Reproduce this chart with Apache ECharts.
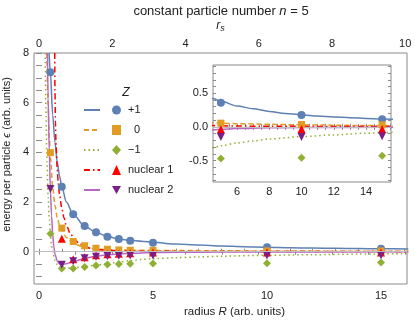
<!DOCTYPE html>
<html>
<head>
<meta charset="utf-8">
<script src="https://cdn.jsdelivr.net/npm/echarts@6/dist/echarts.min.js"></script>
<style>
  html, body { margin: 0; padding: 0; background: #fff; }
  #container { width: 415px; height: 324px; }
</style>
</head>
<body>
<div id="container"></div>
<script>
// sampled radii and energies per particle
const radii = [0.5, 1, 1.5, 2, 2.5, 3, 3.5, 4, 5, 10, 15];
const zPlus = [7.22, 2.62, 1.51, 1.04, 0.78, 0.6, 0.51, 0.44, 0.36, 0.175, 0.115];
const zZero = [3.99, 0.95, 0.41, 0.24, 0.14, 0.1, 0.07, 0.06, 0.055, 0.035, 0.03];
const zMinus = [0.72, -0.68, -0.68, -0.62, -0.56, -0.51, -0.49, -0.48, -0.47, -0.46, -0.43];
const nuc1 = [null, 0.52, -0.3, -0.22, -0.14, -0.1, -0.08, -0.06, -0.035, -0.03, -0.03];
const nuc2 = [2.52, -0.52, -0.38, -0.26, -0.2, -0.17, -0.16, -0.15, -0.15, -0.15, -0.14];

// fitted curves
const plusFitR = [0.44, 0.5, 0.6, 0.7, 0.8, 0.9, 1, 1.2, 1.5, 2, 2.5, 3, 3.5, 4, 4.5, 5, 6, 7, 8, 9, 10, 11, 12, 13, 14, 15, 16.2];
const plusFitE = [8, 7.2, 5.5, 4.4, 3.6, 3.05, 2.62, 2.0, 1.5, 1.03, 0.78, 0.62, 0.51, 0.46, 0.42, 0.38, 0.31, 0.27, 0.23, 0.2, 0.18, 0.16, 0.148, 0.135, 0.125, 0.117, 0.11];
const zeroFitR = [0.34, 0.4, 0.45, 0.5, 0.6, 0.7, 0.8, 0.9, 1, 1.2, 1.6, 2, 2.5, 3, 4, 5, 6, 8, 10, 12, 14, 16.2];
const zeroFitE = [8, 5.9, 4.65, 3.8, 2.6, 1.85, 1.38, 1.07, 0.85, 0.57, 0.29, 0.17, 0.11, 0.085, 0.065, 0.055, 0.048, 0.038, 0.03, 0.025, 0.02, 0.016];
const minusFitR = [0.27, 0.3, 0.35, 0.4, 0.45, 0.5, 0.55, 0.6, 0.7, 0.8, 0.9, 1, 1.2, 1.5, 2, 2.5, 3, 3.5, 4, 4.5, 5, 6, 7, 8, 10, 12, 14, 16.2];
const minusFitE = [8, 5.8, 3.6, 2.2, 1.3, 0.65, 0.25, -0.05, -0.35, -0.52, -0.6, -0.64, -0.66, -0.65, -0.6, -0.54, -0.48, -0.42, -0.36, -0.31, -0.28, -0.24, -0.21, -0.18, -0.145, -0.12, -0.095, -0.075];
const nuc1FitR = [0.69, 0.7, 0.72, 0.75, 0.8, 0.85, 0.9, 1, 1.1, 1.2, 1.4, 1.6, 1.8, 2, 2.4, 3, 4, 5, 8, 16.2];
const nuc1FitE = [8, 6.5, 5.2, 4.2, 3.3, 2.7, 2.3, 1.75, 1.35, 1.05, 0.68, 0.45, 0.3, 0.2, 0.1, 0.05, 0.025, 0.015, 0.008, 0.003];
const nuc2FitR = [0.37, 0.4, 0.45, 0.5, 0.55, 0.6, 0.65, 0.7, 0.8, 0.9, 1, 1.2, 1.5, 2, 2.5, 3, 4, 5, 6, 8, 10, 16.2];
const nuc2FitE = [8, 6.2, 4.0, 2.5, 1.45, 0.7, 0.2, -0.1, -0.38, -0.49, -0.52, -0.48, -0.4, -0.27, -0.18, -0.12, -0.06, -0.035, -0.025, -0.015, -0.01, -0.005];

const labelsR = [0, 5, 10, 15];
const labelsRs = [0, 2, 4, 6, 8, 10];
const labelsE = [0, 2, 4, 6, 8];
const labelsInsetR = [6, 8, 10, 12, 14];
const labelsInsetE = [-0.5, 0, 0.5];

const names = ['+1', '0', '\u22121', 'nuclear 1', 'nuclear 2'];
const fitNames = ['f+1', 'f0', 'f\u22121', 'fn1', 'fn2'];

function pairs(xs, ys) {
  return xs.map(function (x, i) { return [x, ys[i]]; });
}
function steps(a, b, s) {
  var out = [];
  for (var v = a; v <= b + 1e-9; v += s) out.push(Math.round(v * 100) / 100);
  return out;
}

var font = 'Liberation Sans, Arial, sans-serif';
var frame = '#8a8a8a';
var ink = '#222';

var lineColors = ['#5E81B5', '#E19C24', '#8FB032', '#FF0000', '#B868C4'];
var markColors = ['#5E81B5', '#E19C24', '#8FB032', '#FF0000', '#7B1F87'];
var lineTypes = ['solid', [5, 3], [1.5, 3], [6, 3, 1.5, 3], 'solid'];
var symbols = ['circle', 'rect', 'diamond', 'triangle', 'path://M0,0L10,0L5,9Z'];
var symSizes = [8, 7, 8, 8, 8];
var fits = [pairs(plusFitR, plusFitE), pairs(zeroFitR, zeroFitE), pairs(minusFitR, minusFitE),
            pairs(nuc1FitR, nuc1FitE), pairs(nuc2FitR, nuc2FitE)];
var pts = [zPlus, zZero, zMinus, nuc1, nuc2].map(function (ys) {
  return radii.map(function (r, i) { return [r, ys[i]]; }).filter(function (p) { return p[1] !== null; });
});

function tickAxis(extra) {
  var base = {
    type: 'value',
    axisLine: { show: false },
    splitLine: { show: false },
    axisTick: { show: true, inside: true, length: 3, lineStyle: { color: frame } },
    axisLabel: { color: ink, fontSize: 11, fontFamily: font }
  };
  return Object.assign(base, extra);
}

var series = [];
[0, 2].forEach(function (ax) {
  var inset = ax === 2;
  fits.forEach(function (d, i) {
    var s = {
      name: fitNames[i], type: 'line', xAxisIndex: ax, yAxisIndex: ax,
      data: d, symbol: 'none', smooth: 0.3, smoothMonotone: 'x',
      lineStyle: { color: lineColors[i], width: 1.5, type: lineTypes[i] },
      itemStyle: { color: lineColors[i] },
      z: inset ? 4 : 2, silent: true
    };
    if (i === 0) {
      s.markLine = {
        silent: true, symbol: 'none', label: { show: false },
        lineStyle: { color: '#bdbdbd', width: 1, type: 'solid' },
        data: [{ yAxis: 0 }]
      };
    }
    series.push(s);
  });
  pts.forEach(function (d, i) {
    series.push({
      name: names[i], type: 'scatter', xAxisIndex: ax, yAxisIndex: ax,
      data: d, symbol: symbols[i], symbolSize: symSizes[i],
      itemStyle: { color: markColors[i], opacity: 1 },
      z: inset ? 5 : 3, silent: true
    });
  });
});

var option = {
  animation: false,
  backgroundColor: '#fff',
  title: [
    {
      text: 'constant particle number {i|n} = 5', left: 221, top: 5, textAlign: 'center', padding: 0,
      textStyle: { fontSize: 13, fontWeight: 'normal', color: ink, fontFamily: font,
        rich: { i: { fontStyle: 'italic', fontSize: 13, color: ink, fontFamily: font } } }
    },
    {
      text: 'Z', left: 126, top: 87, textAlign: 'center', padding: 0,
      textStyle: { fontSize: 12, fontWeight: 'normal', fontStyle: 'italic', color: ink, fontFamily: font }
    }
  ],
  legend: [
    {
      data: fitNames, orient: 'vertical', left: 83, top: 104, padding: 0,
      itemWidth: 16, itemHeight: 10, itemGap: 8,
      formatter: function () { return ' '; },
      itemStyle: { opacity: 0 },
      textStyle: { fontSize: 11, lineHeight: 12, fontFamily: font },
      selectedMode: false
    },
    {
      data: names, orient: 'vertical', left: 112, top: 104, padding: 0,
      itemWidth: 9, itemHeight: 10, itemGap: 8,
      formatter: function (n) { return n === '0' ? '  0' : n; },
      textStyle: { fontSize: 11, lineHeight: 12, color: ink, fontFamily: font, padding: [0, 0, 0, 2] },
      selectedMode: false
    }
  ],
  grid: [
    { left: 34, top: 53, width: 373, height: 231, show: true, borderColor: frame, borderWidth: 1,
      backgroundColor: 'transparent', outerBoundsMode: 'none', containLabel: false },
    { left: 213, top: 65, width: 178, height: 117, show: true, borderColor: frame, borderWidth: 1,
      backgroundColor: '#fff', z: 3, outerBoundsMode: 'none', containLabel: false }
  ],
  xAxis: [
    tickAxis({
      gridIndex: 0, position: 'bottom', min: -0.22, max: 16.14,
      axisTick: { show: true, inside: true, length: 3, customValues: steps(0, 16, 1), lineStyle: { color: frame } },
      axisLabel: { customValues: labelsR, color: ink, fontSize: 11, fontFamily: font, margin: 6 },
      name: 'radius {i|R} (arb. units)', nameLocation: 'middle', nameGap: 22,
      nameTextStyle: { color: ink, fontSize: 11.5, fontFamily: font, padding: [0, 0, 0, 28],
        rich: { i: { fontStyle: 'italic', fontSize: 11.5, color: ink, fontFamily: font } } }
    }),
    tickAxis({
      gridIndex: 0, position: 'top', min: -0.137, max: 10.05,
      axisTick: { show: true, inside: true, length: 3, customValues: steps(0, 10, 1), lineStyle: { color: frame } },
      axisLabel: { customValues: labelsRs, color: ink, fontSize: 11, fontFamily: font, margin: 4 },
      name: '{i|r}{s|s}', nameLocation: 'middle', nameGap: 18,
      nameTextStyle: { color: ink, fontSize: 11, fontFamily: font,
        rich: { i: { fontStyle: 'italic', fontSize: 12, color: ink, fontFamily: font },
                s: { fontStyle: 'italic', fontSize: 9, color: ink, fontFamily: font, padding: [5, 0, 0, 0] } } }
    }),
    tickAxis({
      gridIndex: 1, position: 'bottom', min: 4.51, max: 15.55, z: 4,
      axisTick: { show: true, inside: true, length: 3, customValues: steps(5, 15.5, 0.5), lineStyle: { color: frame } },
      axisLabel: { customValues: labelsInsetR, color: ink, fontSize: 11, fontFamily: font, margin: 4 }
    }),
    tickAxis({
      gridIndex: 1, position: 'top', min: 4.51, max: 15.55, z: 4,
      axisTick: { show: true, inside: true, length: 3, customValues: steps(5, 15.5, 0.5), lineStyle: { color: frame } },
      axisLabel: { show: false }
    })
  ],
  yAxis: [
    tickAxis({
      gridIndex: 0, position: 'left', min: -1.3, max: 8,
      axisTick: { show: true, inside: true, length: 3, customValues: steps(-1, 8, 0.5), lineStyle: { color: frame } },
      axisLabel: { customValues: labelsE, color: ink, fontSize: 11, fontFamily: font, margin: 5 },
      name: 'energy per particle {i|\u03f5} (arb. units)', nameLocation: 'middle', nameGap: 14,
      nameTextStyle: { color: ink, fontSize: 11, fontFamily: font, padding: [0, 0, 0, 28],
        rich: { i: { fontStyle: 'italic', fontSize: 11, color: ink, fontFamily: font } } }
    }),
    tickAxis({
      gridIndex: 0, position: 'right', min: -1.3, max: 8,
      axisTick: { show: true, inside: true, length: 3, customValues: steps(-1, 8, 0.5), lineStyle: { color: frame } },
      axisLabel: { show: false }
    }),
    tickAxis({
      gridIndex: 1, position: 'left', min: -0.82, max: 0.92, z: 4,
      axisTick: { show: true, inside: true, length: 3, customValues: steps(-0.8, 0.9, 0.1), lineStyle: { color: frame } },
      axisLabel: { customValues: labelsInsetE, color: ink, fontSize: 11, fontFamily: font, margin: 5,
        formatter: function (v) { return v.toFixed(1); } }
    }),
    tickAxis({
      gridIndex: 1, position: 'right', min: -0.82, max: 0.92, z: 4,
      axisTick: { show: true, inside: true, length: 3, customValues: steps(-0.8, 0.9, 0.1), lineStyle: { color: frame } },
      axisLabel: { show: false }
    })
  ],
  series: series
};

var chart = echarts.init(document.getElementById('container'), null, { renderer: 'canvas' });
chart.setOption(option);
window.addEventListener('resize', chart.resize);
</script>
</body>
</html>
